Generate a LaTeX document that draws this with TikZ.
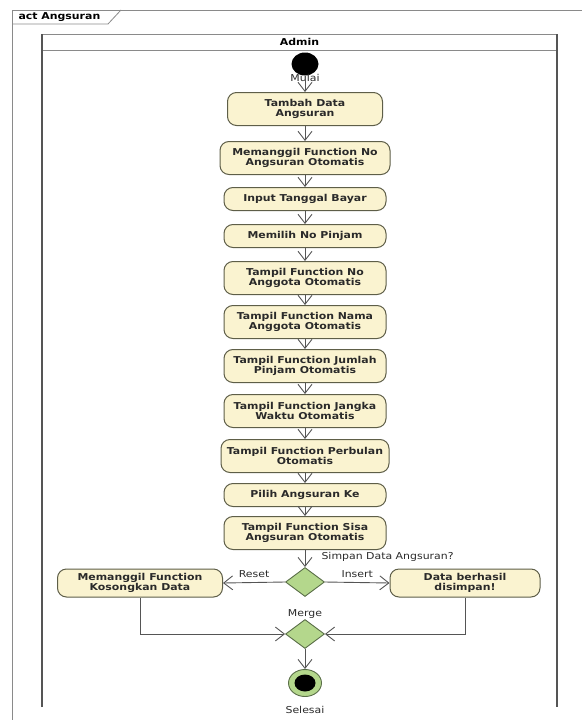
\documentclass[tikz,border=0pt]{standalone}
\usepackage{fontspec}
\usetikzlibrary{arrows.meta,shapes.geometric}
\newfontfamily\umlfont[FakeStretch=1.15]{DejaVu Sans}
\definecolor{actfill}{HTML}{FAF3D0}
\definecolor{actline}{HTML}{5E5E48}
\definecolor{choicefill}{HTML}{B4D78C}
\definecolor{choiceline}{HTML}{5A6E48}
\definecolor{frameline}{HTML}{8A8A8A}
\definecolor{laneline}{HTML}{555555}
\definecolor{inktext}{HTML}{2A2A2A}

\begin{document}
\begin{tikzpicture}[x=1pt, y=-1pt,
  act/.style={draw=actline, fill=actfill, rounded corners=9pt, line width=1pt,
              minimum width=162pt, minimum height=23pt, align=center, inner sep=2pt,
              text=inktext, font=\umlfont\bfseries\fontsize{9.5}{10.5}\selectfont},
  acttwo/.style={act, minimum height=33pt},
  choice/.style={diamond, draw=choiceline, fill=choicefill, line width=0.9pt,
                 minimum width=39pt, minimum height=29pt, inner sep=0pt},
  startdot/.style={ellipse, fill=black, minimum width=27pt, minimum height=23pt, inner sep=0pt},
  final/.style={ellipse, draw=choiceline, fill=choicefill, line width=0.9pt,
                minimum width=33pt, minimum height=27pt, inner sep=0pt},
  flow/.style={-{Straight Barb[length=9pt,width=14pt]}, draw=laneline, line width=0.9pt},
  lbl/.style={text=inktext, font=\umlfont\fontsize{9.5}{10.5}\selectfont},
  title/.style={text=black, font=\umlfont\bfseries\fontsize{9.5}{10.5}\selectfont},
  frame/.style={draw=frameline, line width=0.8pt},
  lane/.style={draw=laneline, line width=1.6pt}
]
\useasboundingbox (0,0) rectangle (582,720);
% frame and swimlane
\draw[frame] (12,720) -- (12,10) -- (582,10);
\draw[frame] (12,24) -- (108,24) -- (121,10);
\node[title, anchor=west] (acttag) at (15,17) {act Angsuran};
\draw[frame] (42,34) -- (557,34);
\draw[frame] (42,50) -- (557,50);
\draw[lane] (42,707) -- (42,34);
\draw[lane] (557,34) -- (557,707);
\node[title] (admin) at (299.5,42) {Admin};

% main flow
\node[startdot] (mulai) at (305,64) {};
\node[lbl] (mulailbl) at (305,78) {Mulai};
\node[acttwo, minimum width=155pt] (tambah) at (305,109) {Tambah Data\\Angsuran};
\node[acttwo, minimum width=170pt] (noangsuran) at (305,158) {Memanggil Function No\\Angsuran Otomatis};
\node[act] (tanggal) at (305,199) {Input Tanggal Bayar};
\node[act] (pinjam) at (305,236) {Memilih No Pinjam};
\node[acttwo] (noanggota) at (305,278) {Tampil Function No\\Anggota Otomatis};
\node[acttwo] (nama) at (305,322) {Tampil Function Nama\\Anggota Otomatis};
\node[acttwo] (jumlah) at (305,366) {Tampil Function Jumlah\\Pinjam Otomatis};
\node[acttwo] (jangka) at (305,411) {Tampil Function Jangka\\Waktu Otomatis};
\node[acttwo, minimum width=168pt] (perbulan) at (305,456) {Tampil Function Perbulan\\Otomatis};
\node[act] (angsuranke) at (305,495) {Pilih Angsuran Ke};
\node[acttwo] (sisa) at (305,533) {Tampil Function Sisa\\Angsuran Otomatis};
\draw[flow] (mulai) -- (tambah);
\draw[flow] (tambah) -- (noangsuran);
\draw[flow] (noangsuran) -- (tanggal);
\draw[flow] (tanggal) -- (pinjam);
\draw[flow] (pinjam) -- (noanggota);
\draw[flow] (noanggota) -- (nama);
\draw[flow] (nama) -- (jumlah);
\draw[flow] (jumlah) -- (jangka);
\draw[flow] (jangka) -- (perbulan);
\draw[flow] (perbulan) -- (angsuranke);
\draw[flow] (angsuranke) -- (sisa);

% decision and merge
\node[choice] (simpan) at (305,582) {};
\node[lbl, anchor=west] (simpanlbl) at (318,557) {Simpan Data Angsuran?};
\draw[flow] (sisa) -- (simpan);
\node[acttwo, minimum width=165pt, minimum height=28pt] (kosong) at (140,583) {Memanggil Function\\Kosongkan Data};
\node[acttwo, minimum width=150pt, minimum height=28pt] (berhasil) at (465,583) {Data berhasil\\disimpan!};
\draw[flow] (simpan.west) -- node[lbl, above=1pt] {Reset} (kosong.east);
\draw[flow] (simpan.east) -- node[lbl, above=1pt] {Insert} (berhasil.west);
\node[choice] (merge) at (305,634) {};
\node[lbl] (mergelbl) at (305,614) {Merge};
\draw[flow] (kosong.south) |- (merge.west);
\draw[flow] (berhasil.south) |- (merge.east);
\node[final] (selesai) at (305,683) {};
\node[startdot, minimum width=21pt, minimum height=17pt] (selesaidot) at (selesai) {};
\node[lbl] (selesailbl) at (305,710) {Selesai};
\draw[flow] (merge) -- (selesai);
\end{tikzpicture}
\end{document}
